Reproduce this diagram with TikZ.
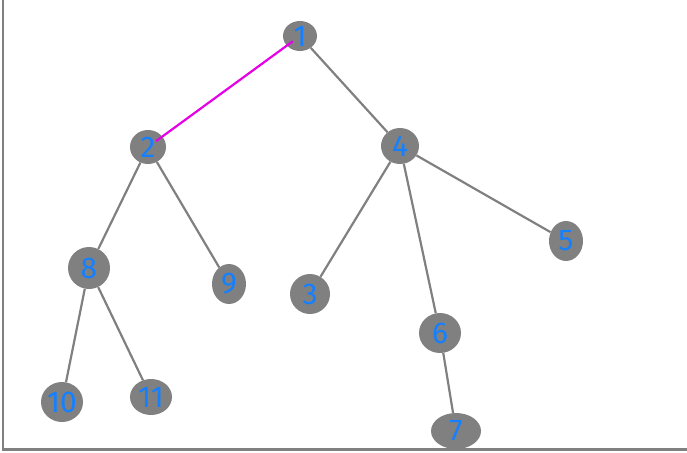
\documentclass[tikz,border=0pt]{standalone}
\usepackage{fontspec}
\setmainfont{Fira Sans}
\usetikzlibrary{shapes.geometric}
\definecolor{ngray}{RGB}{128,128,128}
\definecolor{nblue}{RGB}{20,128,255}
\definecolor{emag}{RGB}{230,0,230}
\begin{document}
\begin{tikzpicture}[x=1pt,y=-1pt,
  vtx/.style={ellipse, fill=ngray, inner sep=-4pt, text=nblue,
    font=\fontsize{30}{30}\selectfont},
  edge/.style={draw=ngray, line width=2.2pt},
  hedge/.style={draw=emag, line width=2.2pt},
  frame/.style={draw=ngray, line width=2.5pt}]
\useasboundingbox (0,0) rectangle (687,452);
\draw[frame] (3,0) -- (3,449.5) -- (687,449.5);
\node[vtx, minimum width=34pt, minimum height=30pt] (n1) at (300,36) {1};
\node[vtx, minimum width=36pt, minimum height=34pt] (n2) at (148,147) {2};
\node[vtx, minimum width=38pt, minimum height=36pt] (n4) at (400,146) {4};
\node[vtx, minimum width=42pt, minimum height=42pt] (n8) at (89,268) {8};
\node[vtx, minimum width=34pt, minimum height=40pt] (n9) at (229,284) {9};
\node[vtx, minimum width=40pt, minimum height=40pt] (n3) at (310,294) {3};
\node[vtx, minimum width=34pt, minimum height=40pt] (n5) at (566,241) {5};
\node[vtx, minimum width=42pt, minimum height=40pt] (n6) at (440,333) {6};
\node[vtx, minimum width=42pt, minimum height=40pt] (n10) at (62,402) {10};
\node[vtx, minimum width=42pt, minimum height=36pt] (n11) at (151,397) {11};
\node[vtx, minimum width=50pt, minimum height=36pt] (n7) at (456,431) {7};
\draw[edge] (n1) -- (n4);
\draw[edge] (n2) -- (n8);
\draw[edge] (n2) -- (n9);
\draw[edge] (n4) -- (n3);
\draw[edge] (n4) -- (n6);
\draw[edge] (n4) -- (n5);
\draw[edge] (n8) -- (n10);
\draw[edge] (n8) -- (n11);
\draw[edge] (n6) -- (n7);
\draw[hedge, shorten <=9pt, shorten >=10pt] (n1.center) -- (n2.center);
\end{tikzpicture}
\end{document}
